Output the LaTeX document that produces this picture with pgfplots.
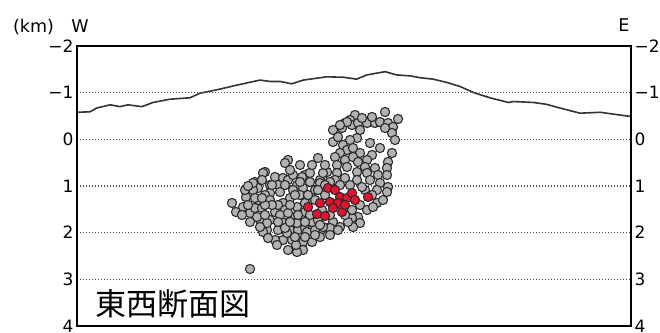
\documentclass[border=0pt]{standalone}
\usepackage{pgfplots}
\pgfplotsset{compat=1.18}
\usepackage{pgfplotstable}
\usepackage{fontspec}
\setmainfont{DejaVu Sans}
\newfontfamily\jp{Noto Sans CJK JP}

\definecolor{dotgray}{HTML}{B2B2B2}
\definecolor{dotedge}{HTML}{2A2A2A}
\definecolor{quake}{HTML}{E8102C}
\definecolor{topo}{HTML}{333333}
\definecolor{gridc}{HTML}{505050}

% surface profile along the section: distance (km), depth (km, negative = above sea level)
\pgfplotstableread{
x     d
0.00  -0.58
0.28  -0.59
0.42  -0.67
0.71  -0.74
0.92  -0.70
1.09  -0.74
1.39  -0.70
1.63  -0.79
1.99  -0.86
2.42  -0.89
2.64  -0.99
2.99  -1.06
3.42  -1.16
3.92  -1.27
4.14  -1.24
4.35  -1.24
4.60  -1.19
4.85  -1.27
5.35  -1.34
5.71  -1.33
5.99  -1.29
6.21  -1.38
6.60  -1.45
6.85  -1.38
7.14  -1.36
7.35  -1.32
7.63  -1.29
7.92  -1.22
8.21  -1.13
8.53  -0.99
8.85  -0.89
9.24  -0.79
9.35  -0.81
9.78  -0.79
10.06 -0.75
10.35 -0.67
10.78 -0.56
11.21 -0.58
11.49 -0.54
11.87 -0.49
}\topography

% hypocentres, earlier period
\pgfplotstableread{
x     d
5.957 -0.521
6.600 -0.586
6.878 -0.436
5.850 -0.414
5.742 -0.350
5.892 -0.307
6.021 -0.350
6.214 -0.350
6.385 -0.350
6.492 -0.371
6.664 -0.350
6.771 -0.264
5.485 -0.200
5.678 -0.243
5.785 -0.371
6.749 -0.136
5.485  0.057
6.000 -0.029
6.278  0.079
6.749  0.293
6.664  0.486
6.642  0.614
6.642  0.764
6.107 -0.457
6.321 -0.479
5.635 -0.307
6.600 -0.243
6.064 -0.200
5.592 -0.050
6.814  0.014
6.492  0.186
6.321  0.336
5.850  0.014
5.699  0.122
5.785  0.229
5.914  0.186
5.635  0.293
6.064  0.293
5.528  0.379
5.914  0.379
5.742  0.443
6.214  0.443
6.021  0.486
5.571  0.550
5.785  0.593
6.171  0.593
6.385  0.614
5.357  0.700
5.571  0.721
6.000  0.700
6.214  0.721
6.450  0.764
5.271  0.871
5.528  0.871
5.742  0.829
6.000  0.871
6.278  0.871
6.492  0.936
6.664  1.021
6.428  1.086
6.642  1.129
6.428  1.364
6.214  1.514
6.021  1.664
6.064  1.793
5.892  1.686
6.342  1.450
5.914  1.879
5.485  1.771
5.635  1.879
5.357  1.900
5.207  1.986
6.064  1.407
6.171  1.086
6.321  1.193
6.557  1.300
5.892  1.514
5.807  1.771
5.421  1.900
4.521  0.443
4.457  0.507
4.028  0.700
4.243  0.807
4.414  0.829
3.814  0.914
3.878  1.043
3.771  1.086
4.135  0.979
4.307  0.979
4.521  0.871
4.714  0.979
4.885  0.764
4.992  0.914
5.207  0.871
5.100  1.086
4.843  1.043
4.628  1.086
4.350  1.129
4.135  1.150
4.628  0.764
4.821  0.807
4.992  0.721
5.271  0.721
5.207  0.936
4.778  0.550
5.035  0.550
5.314  0.550
5.164  0.400
4.564  0.657
4.028  1.193
3.321  1.364
3.407  1.557
3.707  1.579
3.814  1.471
3.964  1.471
3.921  1.729
4.135  1.729
4.243  1.557
4.393  1.771
4.071  1.943
4.307  1.943
4.564  1.943
4.735  1.943
4.885  1.900
5.057  1.900
4.414  2.157
4.607  2.157
4.843  2.200
5.035  2.200
4.521  2.371
4.843  2.371
4.714  2.414
4.243  2.157
3.707  2.778
4.564  1.257
4.778  1.193
4.414  1.364
4.714  1.450
4.607  1.664
4.821  1.664
4.714  1.793
4.135  1.300
4.307  1.407
3.857  1.664
4.071  1.793
3.985  1.986
4.500  2.007
4.928  1.986
5.100  1.943
5.271  1.879
5.207  2.093
4.457  1.514
4.992  1.300
5.314  1.193
5.035  1.771
4.885  1.557
4.178  1.407
4.350  1.621
4.028  1.621
3.878  1.300
3.621  1.236
3.557  1.450
4.093  2.114
4.285  2.264
4.693  2.264
5.164  1.729
5.635  0.979
5.850  0.979
6.107  1.021
5.421  0.914
5.742  1.621
5.592  1.943
5.421  2.050
3.921  1.879
3.707  1.771
3.985  0.721
3.771  0.936
3.600  1.086
4.671  1.193
4.885  1.364
4.521  1.579
4.307  1.771
4.457  1.900
4.671  2.093
4.885  2.093
5.100  2.050
4.028  1.407
3.814  1.257
3.664  1.407
3.535  1.621
3.964  1.257
4.178  0.979
3.964  0.871
3.664  1.000
4.457  0.979
4.778  0.914
5.164  1.086
5.250  1.514
5.421  1.621
5.100  1.300
5.314  0.979
4.950  1.193
4.564  1.407
4.735  1.621
4.992  1.621
4.564  1.771
4.885  1.771
5.207  1.836
}\earlier

% hypocentres, latest period
\pgfplotstableread{
x     d
5.378 1.043
5.528 1.086
5.635 1.236
5.785 1.257
5.892 1.150
5.957 1.300
5.421 1.343
5.592 1.364
5.485 1.471
5.678 1.557
4.950 1.450
5.142 1.600
5.314 1.643
6.235 1.236
5.742 1.407
5.207 1.364
}\latest

\begin{document}
\begin{tikzpicture}
\pgfplotsset{
  section/.style={
    scale only axis, width=554pt, height=280pt,
    xmin=0, xmax=11.87, ymin=-2, ymax=4, y dir=reverse,
    xtick=\empty, ytick={-2,-1,0,1,2,3,4},
    yticklabels={−2,−1,0,1,2,3,4},
    major tick length=0pt,
    tick label style={font=\fontsize{17}{17}\selectfont},
  }
}
\begin{axis}[
  section,
  ymajorgrids,
  grid style={gridc, line width=1.2pt, dash pattern=on 1.2pt off 1.8pt},
  axis line style={line width=2.2pt, black},
  axis on top,
]
  \addplot[topo, line width=1.6pt] table[x=x, y=d] {\topography};
  \addplot[only marks, mark=*, mark size=4.6pt,
    mark options={fill=dotgray, draw=dotedge, line width=1.1pt}]
    table[x=x, y=d] {\earlier};
  \addplot[only marks, mark=*, mark size=4.6pt,
    mark options={fill=quake, draw=dotedge, line width=1.1pt}]
    table[x=x, y=d] {\latest};
\end{axis}
% depth labels repeated on the east side
\begin{axis}[
  section,
  yticklabel pos=right,
  axis line style={draw=none},
]
\end{axis}
\begin{scope}[font=\fontsize{17.5}{17.5}\selectfont]
  \node[anchor=base] at (-43.5pt,293pt) {(km)};
  \node[anchor=base] at (3pt,293pt) {W};
  \node[anchor=base] at (547pt,294pt) {E};
\end{scope}
\node[anchor=base west, inner sep=0pt, font=\jp\fontsize{31}{31}\selectfont]
  at (18pt,11pt) {東西断面図};
\pgfresetboundingbox
\path[use as bounding box] (-77pt,-6pt) rectangle (583pt,326pt);
\end{tikzpicture}
\end{document}
